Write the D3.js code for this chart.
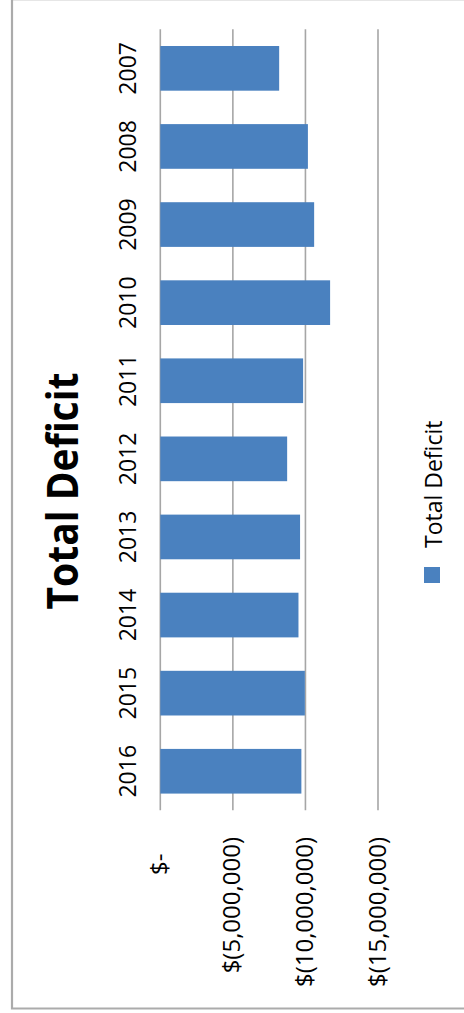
<!DOCTYPE html>
<html>
<head>
<meta charset="utf-8">
<script src="https://cdn.jsdelivr.net/npm/d3@7"></script>
<style>
  body { margin: 0; background: #fff; }
  text { font-family: "Open Sans", sans-serif; fill: #000; }
</style>
</head>
<body>
<svg></svg>
<script>
var width = 464;
var height = 1013;

var years = ["2007", "2008", "2009", "2010", "2011", "2012", "2013", "2014", "2015", "2016"];
var deficits = [-8190000, -10170000, -10600000, -11700000, -9840000, -8740000, -9630000, -9520000, -9960000, -9720000];
var valueTicks = [0, -5000000, -10000000, -15000000];
var seriesName = "Total Deficit";

var barColor = "#4a81bf";

var svg = d3.select("svg")
            .attr("width", width)
            .attr("height", height);

// chart frame
svg.append("rect")
    .attr("x", 12)
    .attr("y", 0.5)
    .attr("width", width + 10)
    .attr("height", 1008)
    .attr("fill", "none")
    .attr("stroke", "#e6e6e6")
    .attr("stroke-width", 1);
svg.append("path")
    .attr("d", "M12,0 V1008.5 H" + width)
    .attr("fill", "none")
    .attr("stroke", "#ababab")
    .attr("stroke-width", 2.2);

var y = d3.scaleBand()
            .domain(years)
            .range([29.3, 810.3])
            .paddingInner(0.428)
            .paddingOuter(0.214);

var x = d3.scaleLinear()
            .domain([0, -15000000])
            .range([160.3, 378]);

function fmt(d) {
    if (d === 0) return "$-\u00a0\u00a0\u2009";
    return "$(" + d3.format(",")(-d) + ")";
}

// gridlines
svg.append("g")
    .selectAll("line")
    .data(valueTicks)
    .join("line")
        .attr("x1", d => x(d))
        .attr("x2", d => x(d))
        .attr("y1", 29.3)
        .attr("y2", 810.3)
        .attr("stroke", "#a6a6a6")
        .attr("stroke-width", 1.6);

// bars
svg.append("g")
    .selectAll("rect")
    .data(years)
    .join("rect")
        .attr("x", x(0))
        .attr("y", d => y(d))
        .attr("width", (d, i) => x(deficits[i]) - x(0))
        .attr("height", y.bandwidth())
        .attr("fill", barColor);

// category labels
svg.append("g")
    .selectAll("text")
    .data(years)
    .join("text")
        .attr("transform", d => "translate(135.5," + (y(d) + y.bandwidth() / 2) + ") rotate(-90)")
        .attr("text-anchor", "middle")
        .style("font-size", "23px")
        .text(d => d);

// value labels
svg.append("g")
    .selectAll("text")
    .data(valueTicks)
    .join("text")
        .attr("transform", d => "translate(" + (x(d) + 7.5) + ",837) rotate(-90)")
        .attr("text-anchor", "end")
        .style("font-size", "24px")
        .style("white-space", "pre")
        .text(fmt);

// title
svg.append("text")
    .attr("transform", "translate(78,491) rotate(-90) scale(1,1.1)")
    .attr("text-anchor", "middle")
    .style("font-size", "39px")
    .style("font-weight", "bold")
    .text("Total Deficit");

// legend
svg.append("rect")
    .attr("x", 424)
    .attr("y", 567)
    .attr("width", 16)
    .attr("height", 16)
    .attr("fill", barColor);
svg.append("text")
    .attr("transform", "translate(442,548) rotate(-90)")
    .attr("text-anchor", "start")
    .style("font-size", "23px")
    .text(seriesName);
</script>
</body>
</html>
